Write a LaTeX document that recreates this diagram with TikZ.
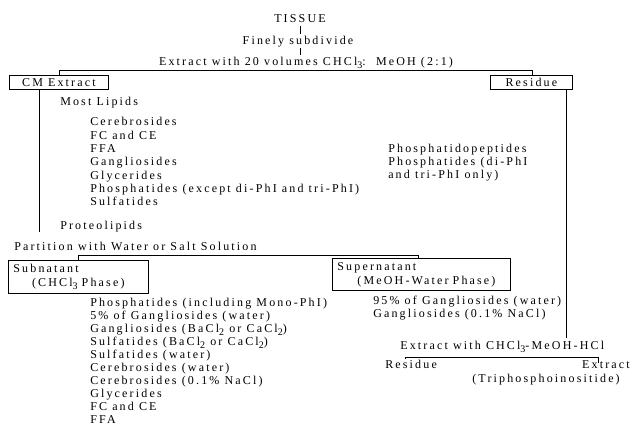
\documentclass[tikz,border=0pt]{standalone}
\usepackage{fontspec}
\setmainfont[LetterSpace=18]{Liberation Serif}
\newcommand\lblfont{\fontsize{9}{10.5}\selectfont}
\newcommand\lowsub[1]{\raisebox{-2.4pt}{\fontsize{7.5}{8}\selectfont #1}}
\begin{document}
\begin{tikzpicture}[x=0.75pt,y=-0.75pt,
  t/.style={inner sep=0pt, anchor=base west, font=\lblfont},
  tc/.style={t, anchor=base},
  box/.style={draw, line width=0.6pt, inner sep=0pt, font=\lblfont, anchor=north west},
  twobox/.style={box, align=left, inner xsep=3.75pt},
  conn/.style={line width=0.6pt}]
\useasboundingbox (0,0) rectangle (632,428);
% top
\node[tc] (tissue) at (300,23) {TISSUE};
\node[tc] (fine) at (298,45) {Finely subdivide};
\node[tc] (ext) at (306,65) {Extract with 20 volumes CHCl\lowsub{3}:\ \ MeOH (2:1)};
\node[box, minimum width=74.25pt, minimum height=10.5pt] (cm) at (9,75) {CM Extract};
\node[box, minimum width=61.5pt, minimum height=10.5pt] (res) at (490,75) {Residue};
% CM extract contents
\node[t] (most) at (60,106) {Most Lipids};
\foreach [count=\i] \s in {Cerebrosides, FC and CE, FFA, Gangliosides, Glycerides,
   {Phosphatides (except di-PhI and tri-PhI)}, Sulfatides}
  \node[t] (cml\i) at (90,112.6+13.3*\i) {\s};
\node[t] (prot) at (60,229) {Proteolipids};
% residue contents
\node[t] (pp1) at (388,152) {Phosphatidopeptides};
\node[t] (pp2) at (388,165) {Phosphatides (di-PhI};
\node[t] (pp3) at (388,178) {and tri-PhI only)};
% partition
\node[t] (part) at (14,250) {Partition with Water or Salt Solution};
\node[twobox, text width=97.5pt, minimum height=24.75pt] (sub) at (8,260)
  {Subnatant\\\hspace*{14pt}(CHCl\lowsub{3} Phase)};
\node[twobox, text width=126pt, minimum height=24pt] (sup) at (332,258)
  {Supernatant\\\hspace*{15pt}(MeOH-Water Phase)};
\foreach [count=\i] \s in {{Phosphatides (including Mono-PhI)}, {5\% of Gangliosides (water)},
   {Gangliosides (BaCl\lowsub{2} or CaCl\lowsub{2})},
   {Sulfatides (BaCl\lowsub{2} or CaCl\lowsub{2})}, {Sulfatides (water)},
   {Cerebrosides (water)}, {Cerebrosides (0.1\% NaCl)}, Glycerides, FC and CE, FFA}
  \node[t] (subl\i) at (90,292.9+13.1*\i) {\s};
\node[t] (supl1) at (373,304) {95\% of Gangliosides (water)};
\node[t] (supl2) at (373,317) {Gangliosides (0.1\% NaCl)};
% acid extraction
\node[t] (hcl) at (400,349) {Extract with CHCl\lowsub{3}-MeOH-HCl};
\node[t] (r2) at (385,368) {Residue};
\node[t, anchor=base east] (e2) at (630,368) {Extract};
\node[t, anchor=base east] (tri) at (620,382) {(Triphosphoinositide)};
% connectors
\draw[conn, shorten <=2pt, shorten >=1.5pt] (tissue.south) -- (tissue.south |- fine.north);
\draw[conn, shorten >=1pt] (tissue.south |- fine.south) -- (tissue.south |- ext.north);
\coordinate (j1) at (59,70); \coordinate (j2) at (532,70);
\draw[conn] (j1 |- cm.north) -- (j1) -- (j2) -- (j2 |- res.north);
\coordinate (vl) at (39,232);
\draw[conn] (vl |- cm.south) -- (vl);
\coordinate (vr) at (566,338);
\draw[conn, shorten >=1.5pt] (vr |- res.south) -- (vr |- hcl.north);
\coordinate (p1) at (78,255); \coordinate (p2) at (418,255);
\draw[conn] (p1 |- sub.north) -- (p1) -- (p2) -- (p2 |- sup.north);
\coordinate (h1) at (405,357); \coordinate (h2) at (598,357);
\draw[conn, shorten >=-2pt] (h1 |- r2.north) -- (h1) -- (h2) -- (h2 |- e2.north);
\end{tikzpicture}
\end{document}
